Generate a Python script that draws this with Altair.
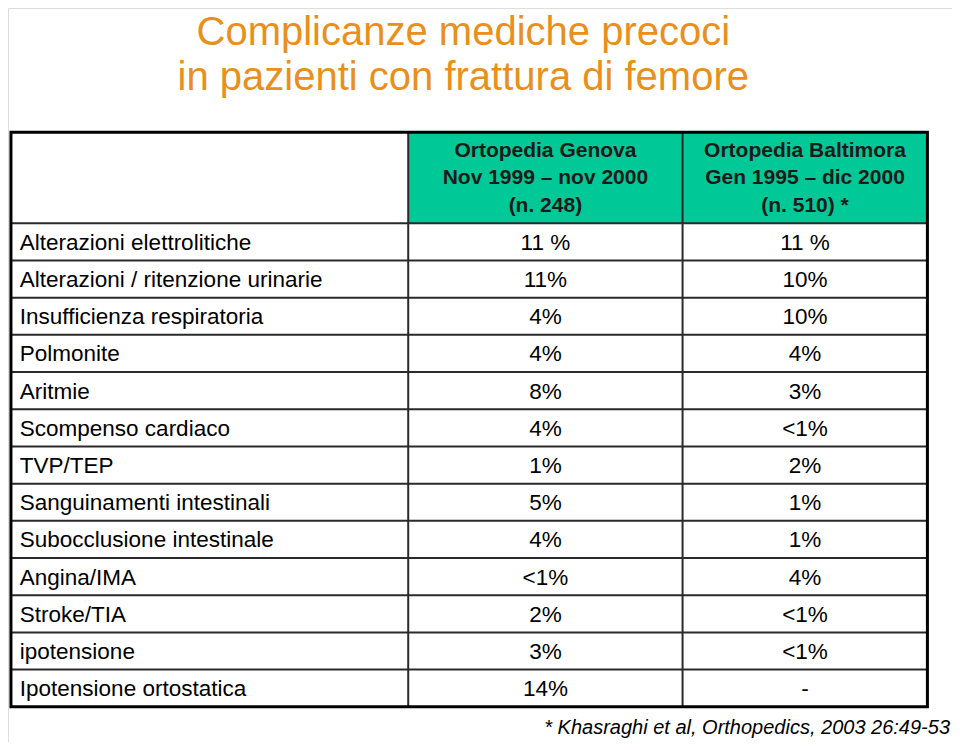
import altair as alt
import pandas as pd

# ---------------- data ----------------
title_lines = ["Complicanze mediche precoci", "in pazienti con frattura di femore"]
header_genova = ["Ortopedia Genova", "Nov 1999 \u2013 nov 2000", "(n. 248)"]
header_baltimora = ["Ortopedia Baltimora", "Gen 1995 \u2013 dic 2000", "(n. 510) *"]
complications = [
    "Alterazioni elettrolitiche",
    "Alterazioni / ritenzione urinarie",
    "Insufficienza respiratoria",
    "Polmonite",
    "Aritmie",
    "Scompenso cardiaco",
    "TVP/TEP",
    "Sanguinamenti intestinali",
    "Subocclusione intestinale",
    "Angina/IMA",
    "Stroke/TIA",
    "ipotensione",
    "Ipotensione ortostatica",
]
genova = ["11 %", "11%", "4%", "4%", "8%", "4%", "1%", "5%", "4%", "<1%", "2%", "3%", "14%"]
baltimora = ["11 %", "10%", "10%", "4%", "3%", "<1%", "2%", "1%", "1%", "4%", "<1%", "<1%", "-"]
footnote = "* Khasraghi et al, Orthopedics, 2003 26:49-53"

# ---------------- layout (page-pixel space of the reference) ----------------
W, H = 960, 750
LEFT, RIGHT = 3, 935
TOP, HEAD_BOTTOM = 127, 220
ROW_H = 38
COL1, COL2 = 407, 686
BOTTOM = HEAD_BOTTOM + ROW_H * len(complications)
FONT = "Liberation Sans"
GREEN = "#00C896"
ORANGE = "#E8901B"

XS = alt.Scale(domain=[0, W], nice=False, zero=False)
YS = alt.Scale(domain=[0, H], nice=False, zero=False, reverse=True)


def xq(f):
    return alt.X(f, type="quantitative", scale=XS, axis=None)


def yq(f):
    return alt.Y(f, type="quantitative", scale=YS, axis=None)


# header background
head_df = pd.DataFrame({"x": [COL1], "x2": [RIGHT], "y": [TOP], "y2": [HEAD_BOTTOM]})
head = alt.Chart(head_df).mark_rect(fill=GREEN).encode(
    x=xq("x"), x2="x2", y=yq("y"), y2="y2"
)

# horizontal grid lines
hl_df = pd.DataFrame({
    "x": [LEFT] * len(complications),
    "x2": [RIGHT] * len(complications),
    "y": [HEAD_BOTTOM + ROW_H * k for k in range(len(complications))],
})
hlines = alt.Chart(hl_df).mark_rule(color="#2a2a2a", strokeWidth=2).encode(
    x=xq("x"), x2="x2", y=yq("y")
)

# vertical grid lines
vl_df = pd.DataFrame({"x": [COL1, COL2], "y": [TOP, TOP], "y2": [BOTTOM, BOTTOM]})
vlines = alt.Chart(vl_df).mark_rule(color="#2a2a2a", strokeWidth=2).encode(
    x=xq("x"), y=yq("y"), y2="y2"
)

# outer border
border_df = pd.DataFrame({"x": [LEFT], "x2": [RIGHT], "y": [TOP], "y2": [BOTTOM]})
border = alt.Chart(border_df).mark_rect(
    fill="white", fillOpacity=0, stroke="black", strokeWidth=3
).encode(x=xq("x"), x2="x2", y=yq("y"), y2="y2")

# body cells
rows_y = [HEAD_BOTTOM + ROW_H * (i + 0.5) for i in range(len(complications))]
lab_df = pd.DataFrame({"t": complications, "x": [12] * len(complications), "y": rows_y})
labels = alt.Chart(lab_df).mark_text(
    align="left", baseline="middle", font=FONT, fontSize=22.5, color="black", dy=1
).encode(x=xq("x"), y=yq("y"), text="t:N")

val_df = pd.DataFrame({
    "t": genova + baltimora,
    "x": [(COL1 + COL2) / 2] * len(genova) + [(COL2 + RIGHT) / 2] * len(baltimora),
    "y": rows_y + rows_y,
})
values = alt.Chart(val_df).mark_text(
    align="center", baseline="middle", font=FONT, fontSize=22.5, color="black", dy=1
).encode(x=xq("x"), y=yq("y"), text="t:N")

# header text
hy = [146, 174, 202]
hdr_df = pd.DataFrame({
    "t": header_genova + header_baltimora,
    "x": [(COL1 + COL2) / 2] * 3 + [(COL2 + RIGHT) / 2] * 3,
    "y": hy + hy,
})
header = alt.Chart(hdr_df).mark_text(
    align="center", baseline="middle", font=FONT, fontSize=21, fontWeight="bold", color="#1a1a1a"
).encode(x=xq("x"), y=yq("y"), text="t:N")

# title
title_df = pd.DataFrame({"t": title_lines, "x": [463, 463], "y": [26, 72]})
title = alt.Chart(title_df).mark_text(
    align="center", baseline="middle", font=FONT, fontSize=40, color=ORANGE
).encode(x=xq("x"), y=yq("y"), text="t:N")

# footnote
fn_df = pd.DataFrame({"t": [footnote], "x": [958], "y": [736]})
foot = alt.Chart(fn_df).mark_text(
    align="right", baseline="middle", font=FONT, fontSize=20, fontStyle="italic", color="black"
).encode(x=xq("x"), y=yq("y"), text="t:N")

chart = (
    alt.layer(head, hlines, vlines, border, labels, values, header, title, foot)
    .properties(width=944, height=734, padding=0, autosize=alt.AutoSizeParams(type="none"))
    .configure_view(strokeWidth=0)
    .configure(background="white")
)

chart.save("out.html", embed_options={"renderer": "svg", "actions": False})
